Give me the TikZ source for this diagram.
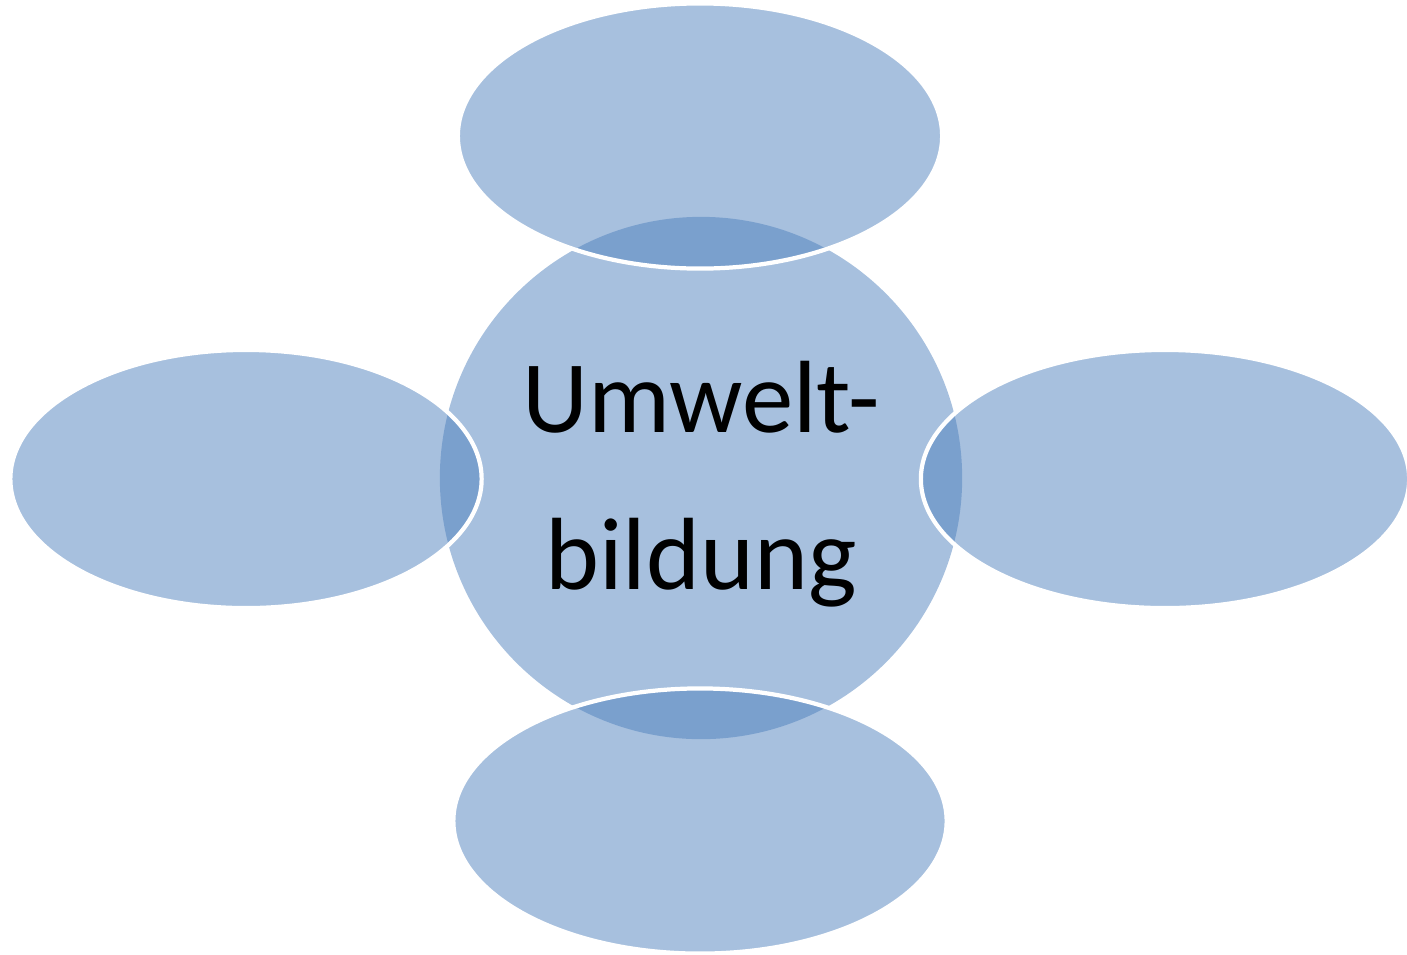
\documentclass[tikz,border=0pt]{standalone}
\usepackage{fontspec}
\setmainfont{Carlito}
\usetikzlibrary{shapes.geometric}
\definecolor{officeblue}{RGB}{79,129,189}

\begin{document}
\begin{tikzpicture}[x=0.01cm, y=-0.01cm,
    hub/.style={circle, fill=officeblue, fill opacity=0.5, text opacity=1, minimum size=5.22cm, inner sep=0pt, align=center, font=\fontsize{29.2}{44.5}\selectfont},
    leaf/.style={ellipse, fill=officeblue, fill opacity=0.5, draw=white, line width=1.2pt, inner sep=0pt}]
    \useasboundingbox (0,0) rectangle (1407,954);
    \node [hub] (umwelt) at (701,478) {};
    \node [font=\fontsize{29.2}{44.5}\selectfont, align=center, inner sep=0pt] (title) at (701,484) {Umwelt-\\bildung};

    % Satellites
    \foreach \name/\x/\y/\w/\h in {top/700/136/4.84/2.65, bottom/700/821/4.93/2.65, left/246/479/4.71/2.58, right/1165/479/4.88/2.58} {
        \node [leaf, minimum width=\w cm, minimum height=\h cm] (\name) at (\x,\y) {};
    }
\end{tikzpicture}
\end{document}
